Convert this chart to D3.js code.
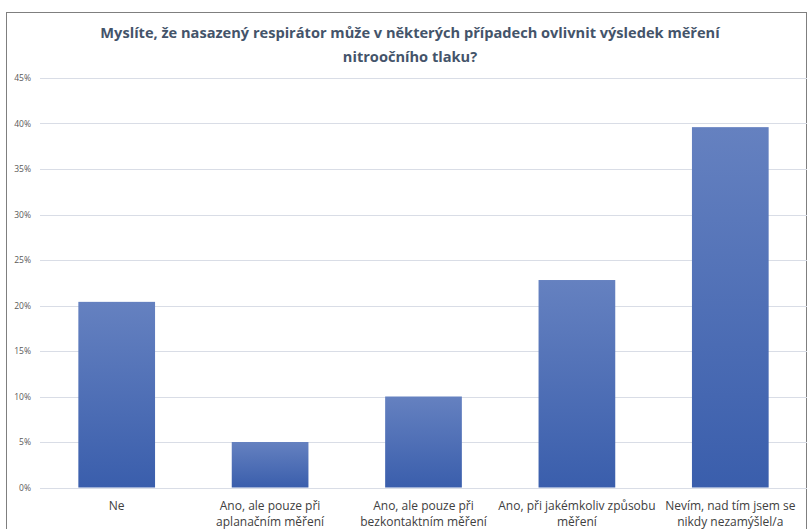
<!DOCTYPE html>
<html>
<head>
<meta charset="utf-8">
<script src="https://cdn.jsdelivr.net/npm/d3@7"></script>
<style>
  body { margin: 0; background: #fff; }
  svg { display: block; font-family: "Open Sans", sans-serif; }
</style>
</head>
<body>
<div id="chart"></div>
<script>
// Data
const categories = [
    "Ne",
    "Ano, ale pouze při aplanačním měření",
    "Ano, ale pouze při bezkontaktním měření",
    "Ano, při jakémkoliv způsobu měření",
    "Nevím, nad tím jsem se nikdy nezamýšlel/a"
];
const categoryLines = [
    ["Ne"],
    ["Ano, ale pouze při", "aplanačním měření"],
    ["Ano, ale pouze při", "bezkontaktním měření"],
    ["Ano, při jakémkoliv způsobu", "měření"],
    ["Nevím, nad tím jsem se", "nikdy nezamýšlel/a"]
];
const values = [0.204, 0.050, 0.100, 0.228, 0.396];
const yTicks = [0, 0.05, 0.10, 0.15, 0.20, 0.25, 0.30, 0.35, 0.40, 0.45];
const titleLines = [
    "Myslíte, že nasazený respirátor může v některých případech ovlivnit výsledek měření",
    "nitroočního tlaku?"
];

function drawChart() {
    const width = 809;
    const height = 529;
    const margin = { top: 78, right: 2, bottom: 41.5, left: 40 };

    const svg = d3.select('#chart')
        .append('svg')
        .attr('width', width)
        .attr('height', height);

    // frame
    svg.append('rect')
        .attr('x', 6.5)
        .attr('y', 12.5)
        .attr('width', 800)
        .attr('height', 530)
        .attr('fill', 'none')
        .attr('stroke', '#7f7f7f')
        .attr('stroke-width', 1);

    const defs = svg.append('defs');
    const grad = defs.append('linearGradient')
        .attr('id', 'barGrad')
        .attr('x1', 0).attr('y1', 0)
        .attr('x2', 0).attr('y2', 1);
    grad.append('stop').attr('offset', '0%').attr('stop-color', '#6581c0');
    grad.append('stop').attr('offset', '100%').attr('stop-color', '#3a5eac');

    const x = d3.scaleBand()
        .domain(categories)
        .range([margin.left, width - margin.right])
        .paddingInner(0.5)
        .paddingOuter(0.25);

    const y = d3.scaleLinear()
        .domain([0, 0.45])
        .range([height - margin.bottom, margin.top]);

    // gridlines
    svg.append('g')
        .selectAll('line')
        .data(yTicks)
        .enter()
        .append('line')
        .attr('x1', margin.left)
        .attr('x2', width - margin.right)
        .attr('y1', d => Math.round(y(d)) + 0.5)
        .attr('y2', d => Math.round(y(d)) + 0.5)
        .attr('stroke', '#d9dde6')
        .attr('stroke-width', 1);

    // y axis labels
    const yAxis = d3.axisLeft(y)
        .tickValues(yTicks)
        .tickFormat(d3.format('.0%'))
        .tickSize(0)
        .tickPadding(9);

    const yG = svg.append('g')
        .attr('transform', `translate(${margin.left}, 0)`)
        .call(yAxis);
    yG.select('.domain').remove();
    yG.selectAll('text')
        .attr('fill', '#595959')
        .attr('font-size', '8.5px')
        .attr('font-family', '"Open Sans", sans-serif');

    // bars
    svg.selectAll('.bar')
        .data(values)
        .enter()
        .append('rect')
        .attr('class', 'bar')
        .attr('x', (d, i) => x(categories[i]))
        .attr('y', d => y(d))
        .attr('width', x.bandwidth())
        .attr('height', d => y(0) - y(d))
        .attr('fill', 'url(#barGrad)');

    // category labels
    const xG = svg.append('g');
    categoryLines.forEach((lines, i) => {
        const t = xG.append('text')
            .attr('x', x(categories[i]) + x.bandwidth() / 2)
            .attr('y', height - margin.bottom + 22)
            .attr('text-anchor', 'middle')
            .attr('fill', '#404040')
            .attr('font-size', '12px');
        lines.forEach((line, j) => {
            t.append('tspan')
                .attr('x', x(categories[i]) + x.bandwidth() / 2)
                .attr('dy', j === 0 ? 0 : 16)
                .text(line);
        });
    });

    // title
    titleLines.forEach((line, i) => {
        svg.append('text')
            .attr('x', 410)
            .attr('y', 38 + i * 24)
            .attr('text-anchor', 'middle')
            .attr('fill', '#44546a')
            .attr('font-size', '14.6px')
            .attr('font-weight', 'bold')
            .text(line);
    });
}

document.addEventListener('DOMContentLoaded', function() {
    drawChart();
});
</script>
</body>
</html>
